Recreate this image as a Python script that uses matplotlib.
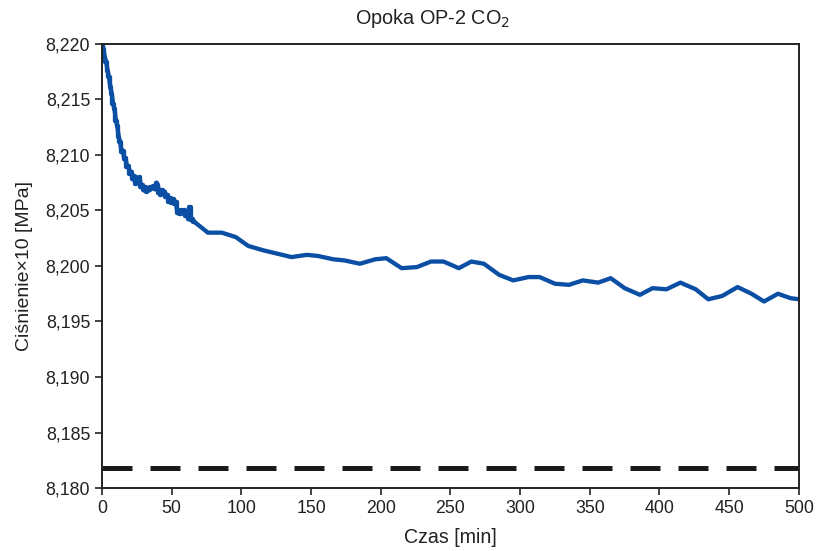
import matplotlib
matplotlib.use("Agg")
import matplotlib.pyplot as plt
from matplotlib.ticker import FuncFormatter

plt.rcParams['font.family'] = ['Liberation Sans', 'DejaVu Sans']

# czas [min] i cisnienie x10 [MPa]
czas = [0, 1, 2, 3, 4, 5, 6, 7, 8, 9, 10, 11, 12, 13, 14, 15, 16, 17, 18, 19,
        20, 21, 22, 23, 24, 25, 26, 27, 28, 29, 30, 31, 32, 33, 34, 35, 36, 37,
        38, 39, 40, 41, 42, 43, 44, 45, 46, 47, 48, 49, 50, 51, 52, 53, 54, 55,
        56, 57, 58, 59, 60, 61, 62, 63, 64, 65, 66, 68, 70, 72, 76,
        86, 96, 105, 116, 126, 136, 147, 155, 166, 174, 185, 196, 204, 215,
        226, 236, 245, 256, 265, 274, 285, 295, 306, 314, 325, 335, 345, 356,
        365, 375, 386, 395, 405, 415, 426, 435, 445, 456, 466, 475, 485, 494, 500]
cisnienie = [8.2199, 8.2195, 8.2188, 8.2184, 8.2176, 8.2170, 8.2161, 8.2155,
             8.2146, 8.2141, 8.2131, 8.2126, 8.2116, 8.2112, 8.2103, 8.2104,
             8.2096, 8.2097, 8.2089, 8.2090, 8.2083, 8.2085, 8.2078, 8.2081,
             8.2074, 8.2079, 8.2077, 8.2080, 8.2071, 8.2073, 8.2068, 8.2071,
             8.2067, 8.2070, 8.2068, 8.2071, 8.2070, 8.2072, 8.2069, 8.2075,
             8.2073, 8.2066, 8.2064, 8.2068, 8.2065, 8.2067, 8.2062, 8.2064,
             8.2058, 8.2061, 8.2057, 8.2060, 8.2056, 8.2058, 8.2048, 8.2050,
             8.2047, 8.2050, 8.2048, 8.2050, 8.2045, 8.2046, 8.2042, 8.2053,
             8.2041, 8.2042, 8.2040, 8.2038, 8.2036, 8.2034, 8.2030,
             8.2030, 8.2026, 8.2018, 8.2014, 8.2011, 8.2008, 8.2010, 8.2009,
             8.2006, 8.2005, 8.2002, 8.2006, 8.2007, 8.1998, 8.1999, 8.2004,
             8.2004, 8.1998, 8.2004, 8.2002, 8.1992, 8.1987, 8.1990, 8.1990,
             8.1984, 8.1983, 8.1987, 8.1985, 8.1989, 8.1980, 8.1974, 8.1980,
             8.1979, 8.1985, 8.1979, 8.1970, 8.1973, 8.1981, 8.1975, 8.1968,
             8.1975, 8.1971, 8.1970]
poziom = 8.1818
n_gesty = 67  # gesty pomiar na poczatku

fig = plt.figure(figsize=(8.16, 5.51), dpi=100)
ax = fig.add_axes([0.125, 0.1143, 0.854, 0.806])

ax.plot(czas, cisnienie, color='#0b4fa5', lw=3.1)
ax.plot(czas[:n_gesty], cisnienie[:n_gesty], color='#0b4fa5', lw=3.1,
        drawstyle='steps-mid')
ax.axhline(poziom, color='#1a1a1a', lw=3.6, dashes=(6, 3.6))

ax.set_xlim(0, 500)
ax.set_ylim(8.180, 8.220)
ax.set_xticks(range(0, 501, 50))
ax.set_yticks([8.180 + 0.005 * i for i in range(9)])
ax.yaxis.set_major_formatter(FuncFormatter(lambda v, p: f"{v:.3f}".replace('.', ',')))
ax.xaxis.set_major_formatter(FuncFormatter(lambda v, p: f"{v:.0f}"))
ax.tick_params(direction='out', length=5, width=1.2, labelsize=12.8, colors='#222222')

for s in ax.spines.values():
    s.set_linewidth(1.4)
    s.set_color('#222222')

ax.set_title('Opoka OP-2 CO$_2$', fontsize=14.3, color='#222222', pad=14, x=0.475)
ax.set_xlabel('Czas [min]', fontsize=14.1, color='#222222', labelpad=8)
ax.set_ylabel('Ciśnienie×10 [MPa]', fontsize=14, color='#222222', labelpad=9)

fig.savefig('out.png', dpi=100)
